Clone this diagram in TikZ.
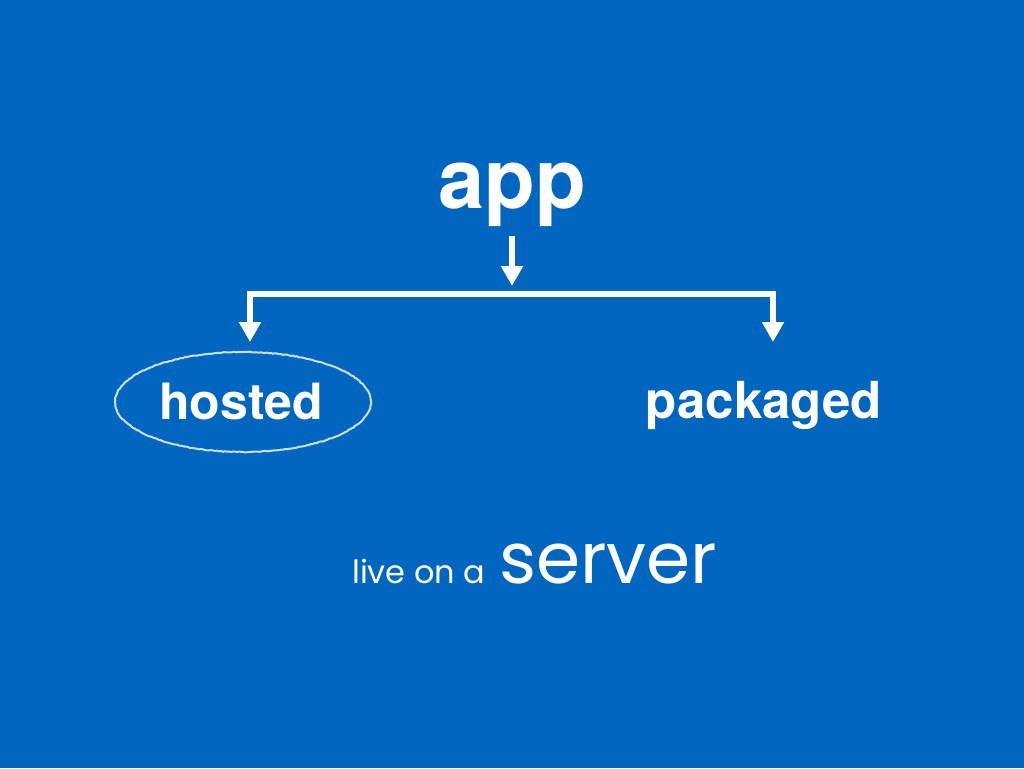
\documentclass[tikz,border=0pt]{standalone}
\usepackage{fontspec}
\setmainfont{TeX Gyre Heros}
\newfontfamily\handfont{Poppins}
\usetikzlibrary{arrows.meta,decorations.pathmorphing}
\definecolor{slideblue}{RGB}{0,102,192}
\definecolor{chalk}{RGB}{205,222,245}

\begin{document}
\begin{tikzpicture}[x=1pt,y=-1pt,
    word/.style={text=white,inner sep=0pt,anchor=base},
    flow/.style={draw=white,line width=6pt,line join=miter}]
  \fill[slideblue] (0,0) rectangle (1024,768);
  \useasboundingbox (0,0) rectangle (1024,768);
  \draw
    (512,208) node[word,font=\bfseries\fontsize{83}{83}\selectfont] (app){app}
    (241,419) node[word,font=\bfseries\fontsize{50}{50}\selectfont] (hosted){hosted}
    (764,418) node[word,font=\bfseries\fontsize{51}{51}\selectfont] (packaged){packaged}
    (352,583) node[word,anchor=base west,font=\handfont\fontsize{32}{32}\selectfont] (live){live on a}
    (499,583) node[word,anchor=base west,font=\handfont\fontsize{71}{71}\selectfont] (server){server};
  \coordinate (stem) at (512,236);
  \coordinate (fork) at (512,286);
  \coordinate (lbar) at (250,294);
  \coordinate (rbar) at (773,294);
  \coordinate (ltip) at (250,342);
  \coordinate (rtip) at (773,342);
  \begin{scope}[>={Triangle[length=20pt,width=21pt]}]
    \draw[flow,->] (stem) to (fork);
    \draw[flow,<->] (ltip) -- (lbar) -- (rbar) -- (rtip);
  \end{scope}
  \draw[chalk,line width=2pt,decorate,
    decoration={random steps,segment length=2pt,amplitude=0.4pt}]
    (243,402) ellipse [x radius=128, y radius=50];
\end{tikzpicture}
\end{document}
